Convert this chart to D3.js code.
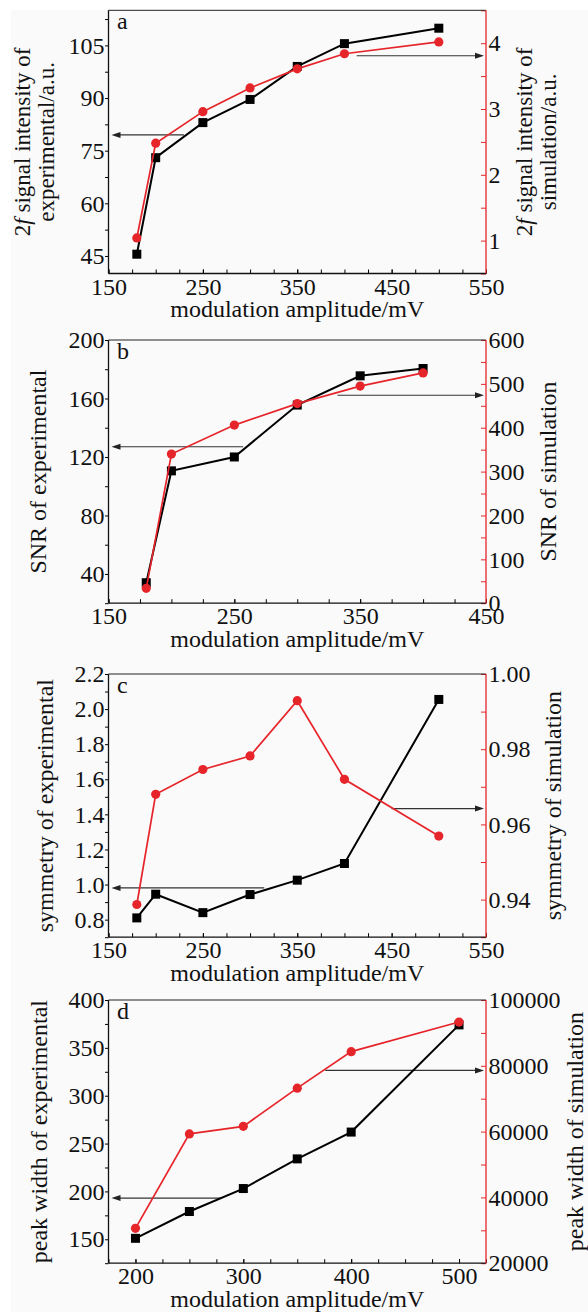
<!DOCTYPE html>
<html><head><meta charset="utf-8">
<script src="https://cdn.jsdelivr.net/npm/d3@7"></script>
<style>
body{margin:0;background:#fff}
svg{display:block}
text{font-family:"Liberation Serif","Times New Roman",serif}
</style>
</head><body>
<svg id="chart" width="588" height="1312"></svg>
<script>
// ---------------- data ----------------
const xA = [180, 200, 250, 300, 350, 400, 500];
const expA = [45.5, 73, 83, 89.6, 99, 105.5, 109.9];
const simA = [1.04, 2.48, 2.96, 3.32, 3.61, 3.84, 4.02];

const xB = [180, 200, 250, 300, 350, 400];
const expB = [34, 110.5, 120, 155.5, 175.5, 180.5];
const simB = [34, 340, 406, 455, 495, 525];

const xC = [180, 200, 250, 300, 350, 400, 500];
const expC = [0.81, 0.945, 0.84, 0.943, 1.025, 1.12, 2.055];
const simC = [0.9387, 0.968, 0.9746, 0.9782, 0.9929, 0.972, 0.9569];

const xD = [200, 250, 300, 350, 400, 500];
const expD = [151, 179, 203, 234, 262, 374];
const simD = [30600, 59300, 61600, 73200, 84300, 93300];

// tick labels
const xLabelsA = [150, 250, 350, 450, 550];
const xLabelsB = [150, 250, 350, 450];
const xLabelsD = [200, 300, 400, 500];
const leftTicksA = [45, 60, 75, 90, 105];
const rightTicksA = [1, 2, 3, 4];
const leftTicksB = [40, 80, 120, 160, 200];
const rightTicksB = [0, 100, 200, 300, 400, 500, 600];
const leftTicksC = [0.8, 1.0, 1.2, 1.4, 1.6, 1.8, 2.0, 2.2];
const rightTicksC = [0.94, 0.96, 0.98, 1.00];
const leftTicksD = [150, 200, 250, 300, 350, 400];
const rightTicksD = [20000, 40000, 60000, 80000, 100000];

// arrows: [from x value, axis value]
const arrowsA = {left: [230, 79.5], right: [413, 3.81]};
const arrowsB = {left: [257, 127], right: [332, 474]};
const arrowsC = {left: [315, 0.981], right: [450, 0.9642]};
const arrowsD = {left: [279, 193], right: [376, 78600]};

// ---------------- layout ----------------
const L = 108.5, R = 486, H = 263.2;
const tops = [10.3, 340, 674, 1000];
const RED = "#e6252b";
const FONT = 24;

const range = (a, b, s) => d3.range(a, b + s / 2, s);

const panels = [
  {label: "a", x: xA, exp: expA, sim: simA, xDomain: [150, 550], xLabels: xLabelsA,
   leftDomain: [40, 115], leftMajor: leftTicksA, leftMinor: range(52.5, 112.5, 15), leftFmt: d3.format("d"),
   rightDomain: [0.5, 4.5], rightMajor: rightTicksA, rightMinor: range(0.5, 4.5, 1), rightFmt: d3.format("d"),
   leftTitle: ["2f signal intensity of", "experimental/a.u."], leftTitleX: [30, 54], titleSize: 23,
   rightTitle: ["2f signal intensity of", "simulation/a.u."], rightTitleX: [532, 556],
   arrows: arrowsA},
  {label: "b", x: xB, exp: expB, sim: simB, xDomain: [150, 450], xLabels: xLabelsB,
   leftDomain: [20, 200], leftMajor: leftTicksB, leftMinor: range(20, 180, 40), leftFmt: d3.format("d"),
   rightDomain: [0, 600], rightMajor: rightTicksB, rightMinor: range(50, 550, 100), rightFmt: d3.format("d"),
   leftTitle: ["SNR of experimental"], leftTitleX: [46], titleSize: FONT,
   rightTitle: ["SNR of simulation"], rightTitleX: [555.5],
   arrows: arrowsB},
  {label: "c", x: xC, exp: expC, sim: simC, xDomain: [150, 550], xLabels: xLabelsA,
   leftDomain: [0.7, 2.2], leftMajor: leftTicksC, leftMinor: range(0.7, 2.1, 0.2), leftFmt: d3.format(".1f"),
   rightDomain: [0.93, 1.00], rightMajor: rightTicksC, rightMinor: range(0.93, 0.99, 0.02), rightFmt: d3.format(".2f"),
   leftTitle: ["symmetry of experimental"], leftTitleX: [53], titleSize: FONT,
   rightTitle: ["symmetry of simulation"], rightTitleX: [560.5],
   arrows: arrowsC},
  {label: "d", x: xD, exp: expD, sim: simD, xDomain: [175, 525], xLabels: xLabelsD,
   leftDomain: [125, 400], leftMajor: leftTicksD, leftMinor: range(125, 375, 50), leftFmt: d3.format("d"),
   rightDomain: [20000, 100000], rightMajor: rightTicksD, rightMinor: range(30000, 90000, 20000), rightFmt: d3.format("d"),
   leftTitle: ["peak width of experimental"], leftTitleX: [47], titleSize: FONT,
   rightTitle: ["peak width of simulation"], rightTitleX: [583],
   arrows: arrowsD}
];

const svg = d3.select("#chart");
svg.append("rect").attr("x", 11).attr("y", 10).attr("width", 577).attr("height", 1302).attr("fill", "#fafafa");

function styleAxis(g, tickColor) {
  g.select(".domain").remove();
  g.attr("font-size", FONT).attr("font-family", '"Liberation Serif","Times New Roman",serif');
  g.selectAll(".tick line").attr("stroke", tickColor).attr("stroke-width", 1);
  g.selectAll(".tick text").attr("fill", "#111");
}

function titleText(g, str, size) {
  const t = g.append("text").attr("font-size", size).attr("text-anchor", "middle").attr("fill", "#111");
  if (str.startsWith("2f")) {
    t.append("tspan").text("2");
    t.append("tspan").attr("font-style", "italic").text("f");
    t.append("tspan").text(str.slice(2));
  } else {
    t.text(str);
  }
  return t;
}

panels.forEach((p, i) => {
  const top = tops[i], bot = top + H;
  const g = svg.append("g");
  const x = d3.scaleLinear().domain(p.xDomain).range([L, R]);
  const yl = d3.scaleLinear().domain(p.leftDomain).range([bot, top]);
  const yr = d3.scaleLinear().domain(p.rightDomain).range([bot, top]);

  // bottom axis: ticks every 25 (inward), labels every 100
  const xTicks = range(Math.ceil(p.xDomain[0] / 25) * 25, p.xDomain[1], 25);
  g.append("g").attr("transform", `translate(0,${bot})`)
    .call(d3.axisBottom(x).tickValues(xTicks).tickSize(-4).tickFormat(""))
    .call(a => styleAxis(a, "#000"));
  g.append("g").attr("transform", `translate(0,${bot})`)
    .call(d3.axisBottom(x).tickValues(p.xLabels).tickSize(-4).tickPadding(4).tickFormat(d3.format("d")))
    .call(a => styleAxis(a, "#000"));

  // left axis (outward ticks)
  g.append("g").attr("transform", `translate(${L},0)`)
    .call(d3.axisLeft(yl).tickValues(p.leftMinor).tickSize(3.5).tickFormat(""))
    .call(a => styleAxis(a, "#000"));
  g.append("g").attr("transform", `translate(${L},0)`)
    .call(d3.axisLeft(yl).tickValues(p.leftMajor).tickSize(3.5).tickPadding(0.5).tickFormat(p.leftFmt))
    .call(a => styleAxis(a, "#000"));

  // right axis (inward red ticks)
  g.append("g").attr("transform", `translate(${R},0)`)
    .call(d3.axisRight(yr).tickValues(p.rightMinor).tickSize(-5).tickFormat(""))
    .call(a => styleAxis(a, RED));
  g.append("g").attr("transform", `translate(${R},0)`)
    .call(d3.axisRight(yr).tickValues(p.rightMajor).tickSize(-5).tickPadding(2.5).tickFormat(p.rightFmt))
    .call(a => styleAxis(a, RED));

  // spines
  g.append("line").attr("x1", L).attr("x2", R).attr("y1", top).attr("y2", top).attr("stroke", "#222").attr("stroke-width", 1);
  g.append("line").attr("x1", L).attr("x2", R).attr("y1", bot).attr("y2", bot).attr("stroke", "#111").attr("stroke-width", 1.3);
  g.append("line").attr("x1", L).attr("x2", L).attr("y1", top).attr("y2", bot).attr("stroke", "#111").attr("stroke-width", 1.3);
  g.append("line").attr("x1", R).attr("x2", R).attr("y1", top).attr("y2", bot).attr("stroke", RED).attr("stroke-width", 1.3);

  // panel label
  g.append("text").attr("x", 117).attr("y", top + 19).attr("font-size", FONT).attr("fill", "#111").text(p.label);

  // x title
  g.append("text").attr("x", (L + R) / 2).attr("y", bot + 43.5).attr("text-anchor", "middle")
    .attr("font-size", FONT).attr("fill", "#111").text("modulation amplitude/mV");

  // y titles
  const cy = (top + bot) / 2;
  p.leftTitle.forEach((s, k) => {
    titleText(g, s, p.titleSize).attr("transform", `translate(${p.leftTitleX[k]},${cy}) rotate(-90)`);
  });
  p.rightTitle.forEach((s, k) => {
    titleText(g, s, p.titleSize).attr("transform", `translate(${p.rightTitleX[k]},${cy}) rotate(-90)`);
  });

  // arrows
  const drawArrow = (x1, x2, y) => {
    g.append("line").attr("x1", x1).attr("x2", x2 + (x2 > x1 ? -7 : 7)).attr("y1", y).attr("y2", y)
      .attr("stroke", "#333").attr("stroke-width", 1.1);
    const dir = x2 > x1 ? -1 : 1;
    g.append("path").attr("d", `M${x2},${y} L${x2 + dir * 9},${y - 3} L${x2 + dir * 9},${y + 3} Z`).attr("fill", "#222");
  };
  drawArrow(x(p.arrows.left[0]), L + 3, yl(p.arrows.left[1]));
  drawArrow(x(p.arrows.right[0]), R - 2, yr(p.arrows.right[1]));

  // experimental (black squares)
  const expPts = p.x.map((v, k) => [x(v), yl(p.exp[k])]);
  g.append("path").attr("d", d3.line()(expPts)).attr("fill", "none").attr("stroke", "#000").attr("stroke-width", 2);
  g.selectAll(null).data(expPts).join("rect")
    .attr("x", d => d[0] - 4.5).attr("y", d => d[1] - 4.5).attr("width", 9).attr("height", 9).attr("fill", "#000");

  // simulation (red circles)
  const simPts = p.x.map((v, k) => [x(v), yr(p.sim[k])]);
  g.append("path").attr("d", d3.line()(simPts)).attr("fill", "none").attr("stroke", RED).attr("stroke-width", 1.7);
  g.selectAll(null).data(simPts).join("circle")
    .attr("cx", d => d[0]).attr("cy", d => d[1]).attr("r", 4.6).attr("fill", RED);
});
</script>
</body></html>
